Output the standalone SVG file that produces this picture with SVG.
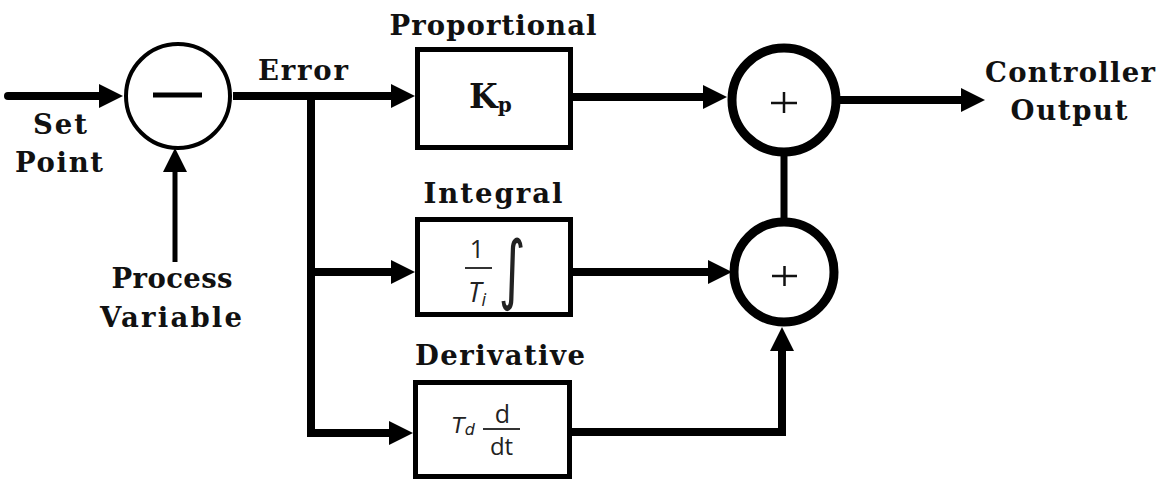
<svg xmlns="http://www.w3.org/2000/svg" width="1169" height="481" viewBox="0 0 1169 481">
<style>
.lbl{font-family:"DejaVu Serif","Liberation Serif",serif;font-weight:bold;font-size:27.5px;fill:#111;text-anchor:middle}
.math{font-family:"Open Sans","Liberation Sans",sans-serif;fill:#222}
.blk{fill:#fff;stroke:#000;stroke-width:5}
.wire{fill:none;stroke:#000;stroke-width:8}
.sum{fill:#fff;stroke:#000;stroke-width:9}
</style>
<defs>
<marker id="ah" markerUnits="userSpaceOnUse" markerWidth="24" markerHeight="24" refX="12" refY="12" orient="auto">
<path d="M0,0 L24,12 L0,24 z" fill="#000"/>
</marker>
</defs>
<rect width="1169" height="481" fill="#fff"/>
<g id="connectors">
<path class="wire" d="M8,96 H111" marker-end="url(#ah)" stroke-linecap="round"/>
<path class="wire" d="M175,262 V160" style="stroke-width:5" marker-end="url(#ah)"/>
<path class="wire" d="M233,96 H403" marker-end="url(#ah)"/>
<path class="wire" d="M311,96 V433 H401" marker-end="url(#ah)"/>
<path class="wire" d="M311,272 H403" marker-end="url(#ah)"/>
<path class="wire" d="M573,97 H715" marker-end="url(#ah)"/>
<path class="wire" d="M573,272 H720" marker-end="url(#ah)"/>
<path class="wire" d="M572,432 H782 V339" marker-end="url(#ah)"/>
<path class="wire" d="M784,155 V219" style="stroke-width:7"/>
<path class="wire" d="M840,100 H973" marker-end="url(#ah)"/>
</g>
<g id="setpoint">
<text class="lbl" x="60" y="134" textLength="54" lengthAdjust="spacing">Set</text>
<text class="lbl" x="59" y="172" textLength="88" lengthAdjust="spacing">Point</text>
</g>
<g id="processvar">
<text class="lbl" x="172" y="288" textLength="121" lengthAdjust="spacing">Process</text>
<text class="lbl" x="171" y="327" textLength="142" lengthAdjust="spacing">Variable</text>
</g>
<g id="subtract">
<circle cx="178" cy="96" r="52" fill="#fff" stroke="#000" stroke-width="4"/>
<line x1="153" y1="95" x2="202" y2="95" stroke="#000" stroke-width="5"/>
</g>
<g id="error">
<text class="lbl" x="303" y="80" textLength="90" lengthAdjust="spacing">Error</text>
</g>
<g id="proportional">
<text class="lbl" x="493" y="35" textLength="207" lengthAdjust="spacing">Proportional</text>
<rect class="blk" x="417.5" y="49.5" width="153" height="98"/>
<text x="469" y="108" style="font-family:'DejaVu Serif',serif;font-weight:bold;font-size:33px;fill:#111">K<tspan font-size="20" dy="4">p</tspan></text>
</g>
<g id="integral">
<text class="lbl" x="493" y="203" textLength="139" lengthAdjust="spacing">Integral</text>
<rect class="blk" x="417.5" y="219.5" width="153" height="95"/>
<text class="math" x="477" y="258" font-size="25" text-anchor="middle">1</text>
<line x1="465" y1="268" x2="492" y2="268" stroke="#333" stroke-width="2"/>
<text class="math" x="468" y="302" font-size="27" font-style="italic">T<tspan font-size="18" dy="4">i</tspan></text>
<text class="math" x="512" y="298" font-size="52" text-anchor="middle" transform="translate(0,-140) scale(1,1.46)" style="font-family:'DejaVu Sans',sans-serif">∫</text>
</g>
<g id="derivative">
<text class="lbl" x="500" y="365" textLength="170" lengthAdjust="spacing">Derivative</text>
<rect class="blk" x="415.5" y="382.5" width="154" height="94"/>
<text class="math" x="452" y="433" font-size="21" font-style="italic" style="font-family:'DejaVu Sans',sans-serif">T<tspan font-size="16" dy="2">d</tspan></text>
<text class="math" x="502.5" y="423" font-size="25" text-anchor="middle">d</text>
<line x1="483" y1="429" x2="520" y2="429" stroke="#333" stroke-width="2"/>
<text class="math" x="501.5" y="455" font-size="24" text-anchor="middle">dt</text>
</g>
<g id="sum1">
<circle class="sum" cx="784" cy="100" r="52"/>
<path d="M771,103 H797 M784,92 V113" stroke="#111" stroke-width="2.5"/>
</g>
<g id="sum2">
<circle class="sum" cx="784" cy="272" r="50"/>
<path d="M772,276 H797 M784.5,266 V286" stroke="#111" stroke-width="2.5"/>
</g>
<g id="output">
<text class="lbl" x="1070" y="82" textLength="170" lengthAdjust="spacing">Controller</text>
<text class="lbl" x="1069" y="120" textLength="117" lengthAdjust="spacing">Output</text>
</g>
</svg>
